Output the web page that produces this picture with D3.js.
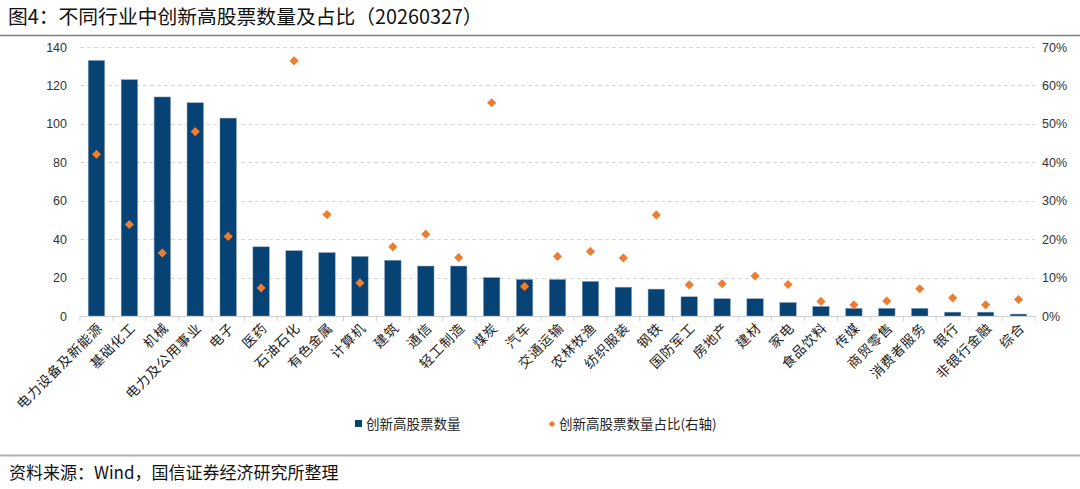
<!DOCTYPE html>
<html><head><meta charset="utf-8">
<script src="https://cdn.jsdelivr.net/npm/d3@7"></script>
<style>
body{margin:0;background:#fff;}
svg{display:block;font-family:"Noto Sans CJK SC","Noto Sans",sans-serif;}
</style></head>
<body><svg id="c" width="1080" height="489"></svg>
<script>
const categories = ["电力设备及新能源","基础化工","机械","电力及公用事业","电子","医药","石油石化","有色金属","计算机","建筑","通信","轻工制造","煤炭","汽车","交通运输","农林牧渔","纺织服装","钢铁","国防军工","房地产","建材","家电","食品饮料","传媒","商贸零售","消费者服务","银行","非银行金融","综合"];
const counts = [133,123,114,111,103,36,34,33,31,29,26,26,20,19,19,18,15,14,10,9,9,7,5,4,4,4,2,2,1];
const shares = [42.1,23.8,16.4,48.0,20.7,7.3,66.4,26.4,8.6,18.0,21.3,15.2,55.5,7.7,15.5,16.8,15.1,26.3,8.1,8.4,10.4,8.2,3.8,2.9,3.9,7.1,4.7,2.9,4.3];
const leftTicks = [0,20,40,60,80,100,120,140];
const rightTicks = [0,10,20,30,40,50,60,70];
const titleText = "图4：不同行业中创新高股票数量及占比（20260327）";
const sourceText = "资料来源：Wind，国信证券经济研究所整理";
const legendLabels = ["创新高股票数量","创新高股票数量占比(右轴)"];

const svg = d3.select("#c");
const L = 80, R = 1035, T = 47, B = 316;
const x = d3.scaleBand().domain(categories).range([L, R]).paddingInner(0.5).paddingOuter(0.25);
const xb = d3.scaleBand().domain(categories).range([L, R]);
const y = d3.scaleLinear().domain([0,140]).range([B,T]);
const y2 = d3.scaleLinear().domain([0,70]).range([B,T]);

// title
svg.append("text").attr("x",8).attr("y",24).attr("font-size",19.8).attr("fill","#111").text(titleText);
svg.append("line").attr("x1",0).attr("x2",1080).attr("y1",35.5).attr("y2",35.5).attr("stroke","#7f7f7f").attr("stroke-width",1.5);

// gridlines
svg.append("g").selectAll("line").data(leftTicks.slice(1)).join("line")
  .attr("x1",L).attr("x2",R).attr("y1",d=>Math.round(y(d))+0.5).attr("y2",d=>Math.round(y(d))+0.5)
  .attr("stroke","#d9d9d9").attr("stroke-dasharray","4,3");

// left axis labels
svg.append("g").selectAll("text").data(leftTicks).join("text")
  .attr("x",67).attr("y",d=>y(d)+4.5).attr("text-anchor","end").attr("font-size",12.5)
  .attr("font-family","Liberation Sans, Arial, sans-serif").attr("fill","#333").text(d=>d);
// right axis labels
svg.append("g").selectAll("text").data(rightTicks).join("text")
  .attr("x",1042).attr("y",d=>y2(d)+4.5).attr("text-anchor","start").attr("font-size",12.5)
  .attr("font-family","Liberation Sans, Arial, sans-serif").attr("fill","#333").text(d=>d+"%");

// bars
svg.append("g").selectAll("rect").data(counts).join("rect")
  .attr("x",(d,i)=>x(categories[i])).attr("width",x.bandwidth())
  .attr("y",d=>y(d)).attr("height",d=>B-y(d))
  .attr("fill","#064273").attr("stroke","#8aa3bb").attr("stroke-width",0.5);

// x axis
svg.append("line").attr("x1",L).attr("x2",R).attr("y1",B+0.5).attr("y2",B+0.5).attr("stroke","#d0d0d0");
svg.append("g").selectAll("line").data(categories.concat(["__end"])).join("line")
  .attr("x1",(d,i)=>L+i*xb.step()).attr("x2",(d,i)=>L+i*xb.step())
  .attr("y1",B).attr("y2",B+5).attr("stroke","#d0d0d0");

// diamonds
const diamond = d3.symbol().type(d3.symbolSquare).size(42);
svg.append("g").selectAll("path").data(shares).join("path")
  .attr("d",diamond())
  .attr("transform",(d,i)=>`translate(${xb(categories[i])+xb.bandwidth()/2},${y2(d)}) rotate(45)`)
  .attr("fill","#ED7D31");

// x labels
svg.append("g").selectAll("text").data(categories).join("text")
  .attr("transform",d=>`translate(${xb(d)+xb.bandwidth()/2+7},${B+13}) rotate(-45)`)
  .attr("text-anchor","end").attr("font-size",13.5).attr("letter-spacing",0.8).attr("fill","#222").text(d=>d);

// legend
svg.append("rect").attr("x",355).attr("y",420).attr("width",7).attr("height",7).attr("fill","#064273");
svg.append("text").attr("x",366).attr("y",428.5).attr("font-size",13.5).attr("fill","#222").text(legendLabels[0]);
svg.append("path").attr("d",d3.symbol().type(d3.symbolSquare).size(22)()).attr("transform","translate(552,424) rotate(45)").attr("fill","#ED7D31");
svg.append("text").attr("x",559).attr("y",428.5).attr("font-size",13.5).attr("fill","#222").text(legendLabels[1]);

// footer
svg.append("line").attr("x1",0).attr("x2",1080).attr("y1",455.5).attr("y2",455.5).attr("stroke","#b0b0b0").attr("stroke-width",2);
svg.append("text").attr("x",9).attr("y",479).attr("font-size",17).attr("fill","#111").text(sourceText);
</script></body></html>
